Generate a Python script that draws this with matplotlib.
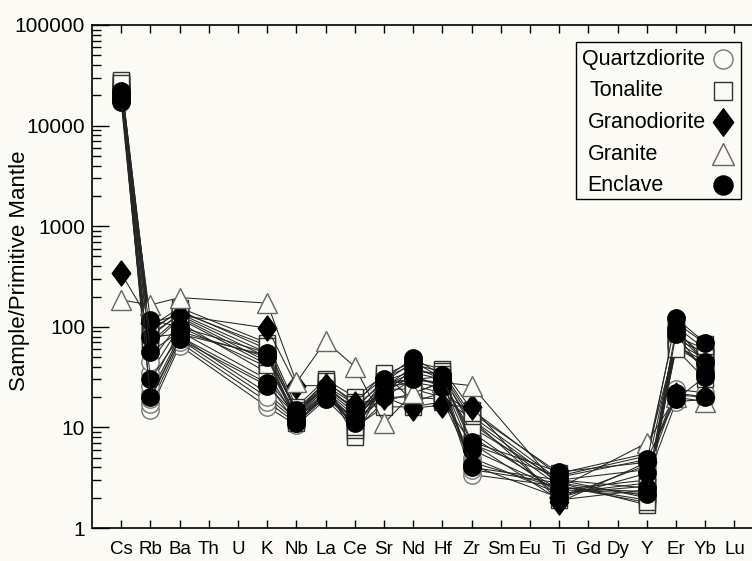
import numpy as np
import matplotlib
matplotlib.use("Agg")
import matplotlib.pyplot as plt
from matplotlib.ticker import LogLocator, NullFormatter
from matplotlib.lines import Line2D
from matplotlib.patches import Rectangle
from matplotlib.path import Path

plt.rcParams['font.family'] = ['Liberation Sans', 'DejaVu Sans']

elements = ["Cs", "Rb", "Ba", "Th", "U", "K", "Nb", "La", "Ce", "Sr", "Nd",
            "Hf", "Zr", "Sm", "Eu", "Ti", "Gd", "Dy", "Y", "Er", "Yb", "Lu"]
n = np.nan
# columns: Cs Rb Ba Th U K Nb La Ce Sr Nd Hf Zr Sm Eu Ti Gd Dy Y Er Yb Lu
quartzdiorite = [
    [21000, 15, 65, n, n, 16, 10.5, 19, 10, 25, 28, 25, 3.4, n, n, 2.6, n, n, 1.9, 65, 45, n],
    [23000, 17, 70, n, n, 18, 11, 21, 11, 28, 30, 27, 3.8, n, n, 2.8, n, n, 2.1, 70, 48, n],
    [20000, 22, 80, n, n, 22, 12, 22, 12, 30, 26, 22, 5.0, n, n, 2.2, n, n, 2.6, 75, 55, n],
    [24000, 26, 90, n, n, 30, 13, 24, 14, 26, 35, 30, 8.0, n, n, 2.4, n, n, 3.0, 18, 19, n],
    [22000, 35, 100, n, n, 40, 14, 26, 15, 22, 38, 33, 10, n, n, 3.0, n, n, 3.8, 80, 60, n],
    [25000, 45, 110, n, n, 35, 12, 23, 13, 24, 24, 20, 12, n, n, 2.0, n, n, 4.2, 24, 22, n],
    [19000, 19, 75, n, n, 20, 11.5, 20, 12, 20, 20, 19, 4.5, n, n, 2.5, n, n, 2.3, 68, 40, n],
]
tonalite = [
    [28000, 100, 155, n, n, 69, 16, 30, 20, 33, 45, 38, 15, n, n, 3.3, n, n, 5.2, 110, 68, n],
    [27000, 90, 145, n, n, 60, 15, 28, 18, 31, 42, 36, 13, n, n, 3.0, n, n, 2.0, 100, 60, n],
    [26000, 80, 135, n, n, 55, 14, 27, 9, 29, 36, 34, 12, n, n, 2.8, n, n, 1.7, 90, 50, n],
    [25000, 70, 125, n, n, 45, 13, 26, 8, 27, 30, 32, 11, n, n, 2.6, n, n, 1.8, 85, 45, n],
    [24000, 65, 120, n, n, 42, 12, 25, 9.5, 18, 22, 28, 9, n, n, 2.2, n, n, 2.8, 62, 42, n],
    [28500, 95, 140, n, n, 65, 14, 29, 17, 35, 18, 22, 14, n, n, 3.5, n, n, 5.5, 70, 38, n],
    [26500, 85, 130, n, n, 50, 11, 22, 10, 16, 16, 18, 7, n, n, 1.9, n, n, 2.4, 60, 30, n],
]
granodiorite = [
    [340, 110, 130, n, n, 97, 26, 26, 17, 20, 15.5, 16.7, 16, n, n, 1.8, n, n, 4.5, 21, 20, n],
]
granite = [
    [185, 165, 195, n, n, 172, 28, 72, 40, 11, 22, 28, 26, n, n, 2.5, n, n, 7.0, 20, 18, n],
]
enclave = [
    [20000, 117, 100, n, n, 55, 14, 25, 15, 30, 49, 33, 7.2, n, n, 3.6, n, n, 4.5, 122, 69, n],
    [18000, 79, 85, n, n, 52, 12, 22, 12, 25, 40, 30, 4.0, n, n, 3.0, n, n, 2.5, 95, 45, n],
    [22000, 30, 80, n, n, 27.5, 11, 20, 11, 20, 30, 28, 6.0, n, n, 2.4, n, n, 2.2, 85, 35, n],
    [17000, 20, 75, n, n, 26, 13, 19, 13, 22, 33, 25, 4.2, n, n, 2.0, n, n, 3.5, 22, 20, n],
    [19000, 56, 90, n, n, 50, 15, 24, 16, 28, 45, 31, 6.8, n, n, 3.2, n, n, 4.8, 19, 32, n],
]
group_names = ["Quartzdiorite", "Tonalite", "Granodiorite", "Granite", "Enclave"]
y_ticks = [1, 10, 100, 1000, 10000, 100000]
y_ticklabels = ["1", "10", "100", "1000", "10000", "100000"]

bg = '#fbfaf5'
diamond = Path([(0, 1), (0.74, 0), (0, -1), (-0.74, 0), (0, 1)],
               [Path.MOVETO, Path.LINETO, Path.LINETO, Path.LINETO, Path.CLOSEPOLY])
styles = {
    "Quartzdiorite": dict(marker='o', mfc=bg, mec='#777777', ms=12.5, mew=1.0),
    "Tonalite": dict(marker='s', mfc=bg, mec='#333333', ms=12, mew=1.0),
    "Granodiorite": dict(marker=diamond, mfc='black', mec='black', ms=18, mew=1.0),
    "Granite": dict(marker='^', mfc=bg, mec='#666666', ms=15, mew=1.0),
    "Enclave": dict(marker='o', mfc='black', mec='black', ms=12.5, mew=1.0),
}
groups = [quartzdiorite, tonalite, granodiorite, granite, enclave]

W, H = 752, 561
fig = plt.figure(figsize=(W / 100, H / 100), dpi=100, facecolor=bg)
ax = fig.add_axes([92 / W, (H - 528) / H, 660 / W, 503 / H])
ax.set_facecolor(bg)

x = np.arange(len(elements))
for name, grp in zip(group_names, groups):
    st = styles[name]
    for row in grp:
        y = np.array(row, dtype=float)
        m = ~np.isnan(y)
        ax.plot(x[m], y[m], color='#262626', lw=0.75, linestyle='-', **st)

ax.set_yscale('log')
ax.set_ylim(1, 100000)
ax.set_xlim(-1, 21.6)
ax.set_xticks(x)
ax.set_xticklabels(elements, fontsize=13.5)
ax.yaxis.set_minor_locator(LogLocator(base=10, subs=np.arange(2, 10), numticks=20))
ax.yaxis.set_minor_formatter(NullFormatter())
ax.set_yticks(y_ticks)
ax.set_yticklabels(y_ticklabels, fontsize=15)
ax.tick_params(axis='y', which='major', direction='in', length=12.5, width=1, pad=5)
ax.tick_params(axis='y', which='minor', direction='in', length=6.5, width=1)
ax.tick_params(axis='x', which='major', direction='in', length=6, width=1, pad=9, top=True)
ax.spines['right'].set_visible(False)
for s in ['left', 'bottom', 'top']:
    ax.spines[s].set_linewidth(1.2)

fig.text(20 / W, 1 - 271 / H, "Sample/Primitive Mantle", rotation=90,
         ha='center', va='center', fontsize=16)

# legend box (text left, marker right)
def fx(px):
    return px / W

def fy(py):
    return 1 - py / H

fig.add_artist(Rectangle((fx(576), fy(199)), fx(741) - fx(576), fy(42) - fy(199),
                         transform=fig.transFigure, facecolor=bg, edgecolor='black',
                         lw=1.0, zorder=5))
row_y = [59, 91, 122, 154, 185]
text_x = [582, 589, 588, 588, 587]
for name, ry, tx in zip(group_names, row_y, text_x):
    st = dict(styles[name])
    st['ms'] = st['ms'] * 1.1
    fig.text(fx(tx), fy(ry), name, ha='left', va='center', fontsize=15.5, zorder=6)
    fig.add_artist(Line2D([fx(723)], [fy(ry)], transform=fig.transFigure,
                          linestyle='none', zorder=6, **st))

fig.savefig("out.png", dpi=100, facecolor=bg)
